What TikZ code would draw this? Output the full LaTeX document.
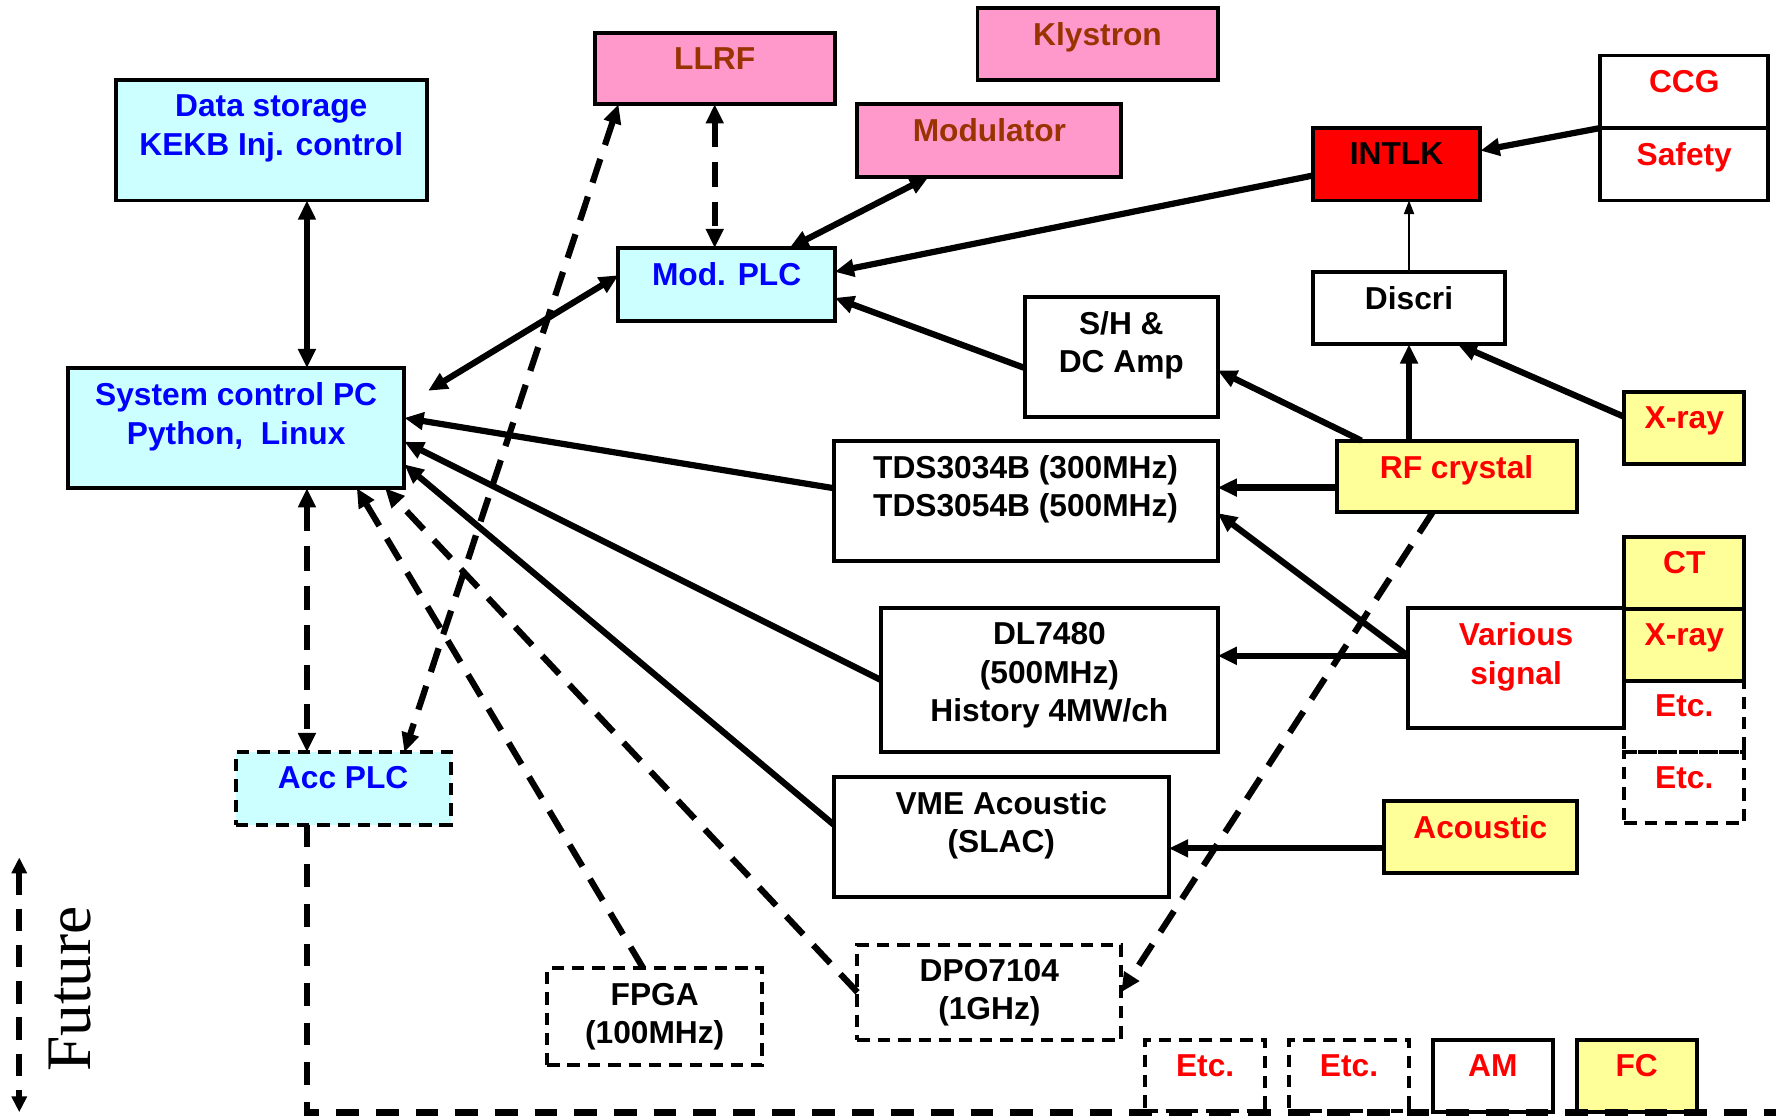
\documentclass[tikz,border=0pt]{standalone}
\usepackage{fontspec}
\setmainfont{Liberation Sans}
\newfontfamily\futurefont{Liberation Serif}
\usetikzlibrary{arrows.meta,calc}
\definecolor{boxcyan}{HTML}{CCFFFF}
\definecolor{boxpink}{HTML}{FF99CC}
\definecolor{boxyellow}{HTML}{FFFF99}
\definecolor{txtbrown}{HTML}{993300}
\definecolor{txtblue}{HTML}{0000FF}
\definecolor{txtred}{HTML}{FF0000}

\begin{document}
\begin{tikzpicture}[x=1pt,y=-1pt,line width=5.5pt,>={Triangle[length=17pt,width=15pt]},
  box/.style={draw,line width=3.5pt,anchor=north west,inner sep=0pt,outer sep=0pt},
  dbox/.style={box,dash pattern=on 11pt off 7pt},
  lbl/.style={anchor=north,inner sep=0pt,align=center,font=\fontsize{28}{34}\selectfont\bfseries},
  dsh/.style={dash pattern=on 22pt off 13pt}]
\useasboundingbox (0,0) rectangle (1568,985);
% ---------- 上段：制御・RF 機器 ----------
\node[box,fill=boxcyan,minimum width=275pt,minimum height=106pt] (store) at (102,71) {};
\node[lbl,txtblue] (store-t) at ($(store.north)+(0,10)$) {Data storage\\KEKB Inj. control};
\node[box,fill=boxpink,minimum width=212pt,minimum height=63pt] (llrf) at (525,29) {};
\node[lbl,txtbrown] (llrf-t) at ($(llrf.north)+(0,10)$) {LLRF};
\node[box,fill=boxpink,minimum width=212pt,minimum height=64pt] (kly) at (863,7) {};
\node[lbl,txtbrown] (kly-t) at ($(kly.north)+(0,10)$) {Klystron};
\node[box,fill=boxpink,minimum width=233pt,minimum height=64pt] (modu) at (757,92) {};
\node[lbl,txtbrown] (modu-t) at ($(modu.north)+(0,10)$) {Modulator};
\node[box,fill=boxcyan,minimum width=191pt,minimum height=64pt] (mplc) at (546,219) {};
\node[lbl,txtblue] (mplc-t) at ($(mplc.north)+(0,10)$) {Mod. PLC};
\node[box,fill=txtred,minimum width=148pt,minimum height=64pt] (intlk) at (1159,113) {};
\node[lbl] (intlk-t) at ($(intlk.north)+(0,10)$) {INTLK};
\node[box,minimum width=148pt,minimum height=64pt] (ccg) at (1413,49) {};
\node[lbl,txtred] (ccg-t) at ($(ccg.north)+(0,10)$) {CCG};
\node[box,minimum width=148pt,minimum height=64pt] (safety) at (1413,113) {};
\node[lbl,txtred] (safety-t) at ($(safety.north)+(0,10)$) {Safety};
\node[box,minimum width=170pt,minimum height=64pt] (discri) at (1159,240) {};
\node[lbl] (discri-t) at ($(discri.north)+(0,10)$) {Discri};
\node[box,minimum width=170pt,minimum height=106pt] (sh) at (905,262) {};
\node[lbl] (sh-t) at ($(sh.north)+(0,10)$) {S/H \&\\DC Amp};
% ---------- 中段：PC と計測器 ----------
\node[box,fill=boxcyan,minimum width=297pt,minimum height=106pt] (pc) at (60,325) {};
\node[lbl,txtblue] (pc-t) at ($(pc.north)+(0,10)$) {System control PC\\Python,\ \ Linux};
\node[box,minimum width=339pt,minimum height=106pt] (tds) at (736,389) {};
\node[lbl] (tds-t) at ($(tds.north)+(0,10)$) {TDS3034B (300MHz)\\TDS3054B (500MHz)};
\node[box,fill=boxyellow,minimum width=212pt,minimum height=63pt] (rfc) at (1180,389) {};
\node[lbl,txtred] (rfc-t) at ($(rfc.north)+(0,10)$) {RF crystal};
\node[box,fill=boxyellow,minimum width=106pt,minimum height=64pt] (xray) at (1434,346) {};
\node[lbl,txtred] (xray-t) at ($(xray.north)+(0,10)$) {X-ray};
\node[box,fill=boxyellow,minimum width=106pt,minimum height=64pt] (ct) at (1434,474) {};
\node[lbl,txtred] (ct-t) at ($(ct.north)+(0,10)$) {CT};
\node[box,fill=boxyellow,minimum width=106pt,minimum height=63pt] (xraytwo) at (1434,538) {};
\node[lbl,txtred] (xraytwo-t) at ($(xraytwo.north)+(0,10)$) {X-ray};
\node[box,minimum width=191pt,minimum height=106pt] (various) at (1243,537) {};
\node[lbl,txtred] (various-t) at ($(various.north)+(0,10)$) {Various\\signal};
\node[box,minimum width=297pt,minimum height=127pt] (dl) at (778,537) {};
\node[lbl] (dl-t) at ($(dl.north)+(0,10)$) {DL7480\\(500MHz)\\History 4MW/ch};
\node[box,minimum width=296pt,minimum height=106pt] (vme) at (736,686) {};
\node[lbl] (vme-t) at ($(vme.north)+(0,10)$) {VME Acoustic\\(SLAC)};
\node[box,fill=boxyellow,minimum width=170pt,minimum height=64pt] (acou) at (1222,707) {};
\node[lbl,txtred] (acou-t) at ($(acou.north)+(0,10)$) {Acoustic};
% ---------- 下段：将来の機器（破線） ----------
\node[dbox,fill=boxcyan,minimum width=190pt,minimum height=64pt] (acc) at (208,664) {};
\node[lbl,txtblue] (acc-t) at ($(acc.north)+(0,10)$) {Acc PLC};
\node[dbox,minimum width=190pt,minimum height=85pt] (fpga) at (483,855) {};
\node[lbl] (fpga-t) at ($(fpga.north)+(0,10)$) {FPGA\\(100MHz)};
\node[dbox,minimum width=233pt,minimum height=84pt] (dpo) at (757,834) {};
\node[lbl] (dpo-t) at ($(dpo.north)+(0,10)$) {DPO7104\\(1GHz)};
\foreach \nm/\xx/\yy in {etca/1434/601, etcb/1434/664, etcc/1011/918, etcd/1138/918}{
  \node[dbox,minimum width=106pt,minimum height=63pt] (\nm) at (\xx,\yy) {};
  \node[lbl,txtred] (\nm-t) at ($(\nm.north)+(0,10)$) {Etc.};
}
\node[box,minimum width=106pt,minimum height=64pt] (am) at (1265,918) {};
\node[lbl,txtred] (am-t) at ($(am.north)+(0,10)$) {AM};
\node[box,fill=boxyellow,minimum width=106pt,minimum height=64pt] (fc) at (1392,918) {};
\node[lbl,txtred] (fc-t) at ($(fc.north)+(0,10)$) {FC};
% ---------- 接続線 ----------
\coordinate (busx) at ($(pc.north west)+(211,0)$);
\draw[<->] (busx |- store.south) -- (busx |- pc.north);
\draw[<->] ($(pc.north east)+(21,20)$) -- ($(mplc.west)+(0,-8)$);
\draw[<->,dsh] (llrf.south) -- (llrf.south |- mplc.north);
\draw[<->] ($(modu.south west)+(63,0)$) -- ($(mplc.north west)+(151,0)$);
\draw[->] ($(intlk.west)+(0,10)$) -- ($(mplc.north east)+(0,21)$);
\draw[->] (safety.north west) -- ($(intlk.east)+(0,-12)$);
\draw[->,line width=1.2pt,>={Triangle[length=12pt,width=9pt]}] (discri.north) -- (discri.north |- intlk.south);
\draw[->] ($(sh.west)+(0,10)$) -- ($(mplc.east)+(0,12)$);
\draw[->] ($(rfc.north west)+(22,0)$) -- ($(sh.east)+(0,12)$);
\draw[->] (discri.south |- rfc.north) -- (discri.south);
\draw[->] ($(xray.west)+(0,-10)$) -- ($(discri.south east)+(-42,0)$);
\draw[->] ($(rfc.west)+(0,10)$) coordinate (rfcw) -- (rfcw -| tds.east);
\draw[->] ($(various.west)+(0,-11)$) coordinate (varw) -- ($(tds.east)+(0,11)$);
\draw[->] (varw) -- (varw -| dl.east);
\draw[->] ($(acou.west)+(0,10)$) coordinate (acouw) -- (acouw -| vme.east);
\draw[->] ($(tds.west)+(0,-11)$) -- ($(pc.east)+(0,-9)$);
\draw[->] (dl.west) -- ($(pc.east)+(0,12)$);
\draw[->] ($(vme.west)+(0,-11)$) -- ($(pc.south east)+(0,-21)$);
\draw[->,dsh] ($(fpga.north west)+(85,0)$) -- ($(pc.south west)+(255,0)$);
\draw[->,dsh] (dpo.west) -- ($(pc.south west)+(280,0)$);
\draw[->,dsh] ($(rfc.south west)+(85,0)$) -- (dpo.east);
\draw[<->,dsh] ($(llrf.south west)+(21,0)$) -- ($(acc.north west)+(149,0)$);
\draw[<->,dsh] (busx |- pc.south) -- (busx |- acc.north);
% 将来のバス（破線）
\coordinate (busend) at (1568,982);
\draw[line width=6pt,dash pattern=on 20pt off 15pt] (busx |- acc.south) -- (busx |- busend) -- (busend);
% ---------- Future ----------
\coordinate (futtop) at (17,757);
\coordinate (futbot) at (17,982);
\draw[<->,line width=5pt,dash pattern=on 20pt off 12pt,>={Triangle[length=14pt,width=13pt]}] (futtop) -- (futbot);
\node[rotate=90,inner sep=0pt,font=\futurefont\fontsize{56}{60}\selectfont] (future) at (62,873) {Future};
\end{tikzpicture}
\end{document}
